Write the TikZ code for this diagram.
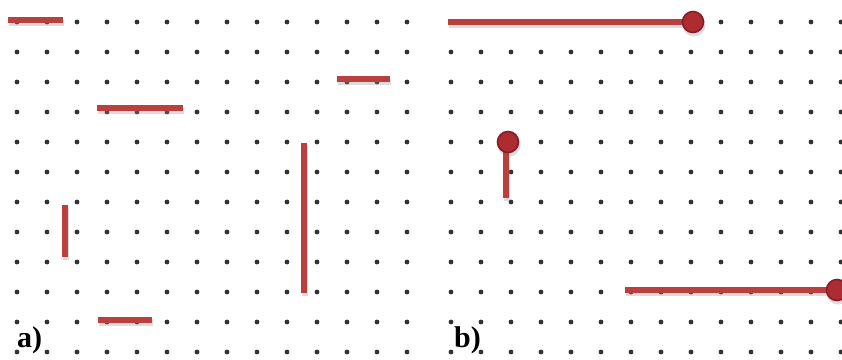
\documentclass[tikz,border=0pt]{standalone}
\usepackage{fontspec}
\setmainfont{Liberation Serif}
\definecolor{segred}{RGB}{186,64,64}
\definecolor{knobred}{RGB}{172,44,50}
\definecolor{knobedge}{RGB}{135,28,34}
\definecolor{dotgray}{RGB}{50,50,50}
\tikzset{
  gdot/.style={fill=dotgray},
  seg/.style={draw=segred, line width=5.8pt},
  segshadow/.style={draw=black!45, line width=6.5pt, opacity=0.3},
  knob/.style={fill=knobred, draw=knobedge, line width=1.6pt},
  lbl/.style={font=\bfseries\fontsize{30}{30}\selectfont, inner sep=0pt}
}
\begin{document}
\begin{tikzpicture}[x=1pt,y=-1pt]
\useasboundingbox[fill=white] (0,0) rectangle (842,359);
% dot grids
\foreach \j in {0,...,11}{
  \foreach \i in {0,...,13}{
    \fill[gdot] (17+30*\i,22+30*\j) circle (2.4);
    \fill[gdot] (451+30*\i,22+30*\j) circle (2.4);
  }
}
% shadows
\begin{scope}[shift={(1,3)}]
\draw[segshadow] (8,20) -- (63,20);
\draw[segshadow] (97,108) -- (183,108);
\draw[segshadow] (337,79) -- (390,79);
\draw[segshadow] (304,143) -- (304,293);
\draw[segshadow] (65,205) -- (65,257);
\draw[segshadow] (98,320) -- (152,320);
\draw[segshadow] (448,22) -- (693,22);
\draw[segshadow] (506,142) -- (506,198);
\draw[segshadow] (625,290) -- (837,290);
\fill[black!45,opacity=0.3] (693,22) circle (11.5);
\fill[black!45,opacity=0.3] (508,142) circle (11.5);
\fill[black!45,opacity=0.3] (837,290) circle (11.5);
\end{scope}
% panel a segments
\draw[seg] (8,20) -- (63,20);
\draw[seg] (97,108) -- (183,108);
\draw[seg] (337,79) -- (390,79);
\draw[seg] (304,143) -- (304,293);
\draw[seg] (65,205) -- (65,257);
\draw[seg] (98,320) -- (152,320);
% panel b segments with knobs
\draw[seg] (448,22) -- (693,22);
\draw[knob] (693,22) circle (10.5);
\draw[seg] (506,142) -- (506,198);
\draw[knob] (508,142) circle (10.5);
\draw[seg] (625,290) -- (837,290);
\draw[knob] (837,290) circle (10.5);
% labels
\node[lbl, anchor=base west] (la) at (17,347) {a)};
\node[lbl, anchor=base west] (lb) at (454,347) {b)};
\end{tikzpicture}
\end{document}
